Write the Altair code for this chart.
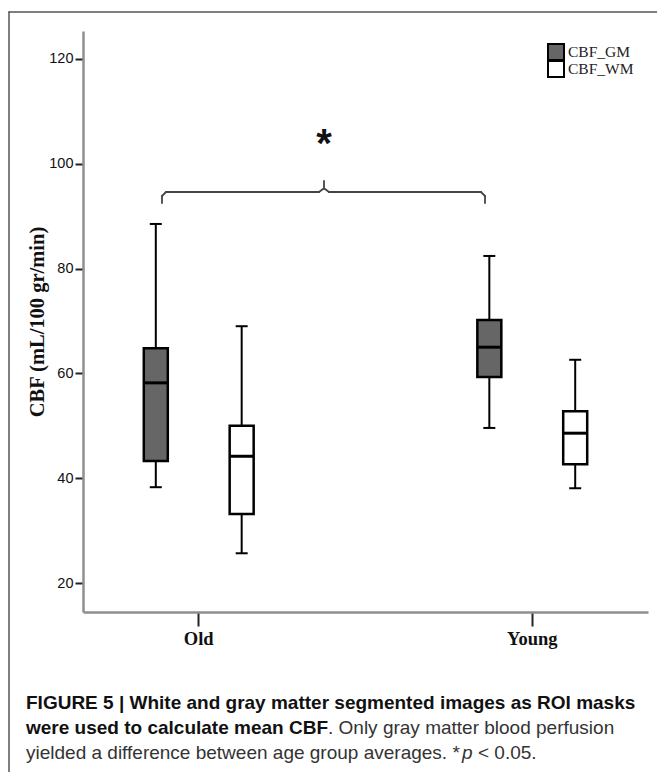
import altair as alt
import pandas as pd

# ---- data ----
groups = ["Old", "Old", "Young", "Young"]
series = ["CBF_GM", "CBF_WM", "CBF_GM", "CBF_WM"]
whisker_low = [38.3, 25.7, 49.6, 38.1]
q1 = [43.3, 33.2, 59.3, 42.7]
median = [58.2, 44.2, 65.0, 48.6]
q3 = [64.8, 50.0, 70.2, 52.8]
whisker_high = [88.5, 69.0, 82.4, 62.6]
y_ticks = [20, 40, 60, 80, 100, 120]
series_order = ["CBF_GM", "CBF_WM"]
series_colors = ["#666666", "#ffffff"]

df = pd.DataFrame({
    "group": groups, "series": series, "low": whisker_low, "q1": q1,
    "median": median, "q3": q3, "high": whisker_high,
})

W, H = 565, 581
yscale = alt.Scale(domain=[14.5, 125.3], nice=False, zero=False)

x_enc = alt.X(
    "group:N",
    scale=alt.Scale(type="band", paddingInner=0.5, paddingOuter=0.097),
    axis=alt.Axis(
        title=None, labelAngle=0, labelFont="Liberation Serif", labelFontWeight="bold",
        labelFontSize=18.5, labelColor="#111111", labelPadding=3,
        domainColor="#8f8f8f", domainWidth=2.5, tickColor="#222222", tickWidth=2,
        tickSize=14, grid=False,
    ),
)
xo_enc = alt.XOffset("series:N", sort=series_order,
                     scale=alt.Scale(paddingInner=0.4, paddingOuter=0.171))

y_axis = alt.Axis(
    values=y_ticks, title="CBF (mL/100 gr/min)", titleFont="Liberation Serif",
    titleFontWeight="bold", titleFontSize=20.5, titleColor="#111111",
    titleAngle=270, titleX=-46, titleY=H / 2, titleAlign="center", titleBaseline="middle",
    labelFont="Liberation Sans", labelFontSize=14.5, labelColor="#111111", labelPadding=2,
    domainColor="#8f8f8f", domainWidth=2.5, tickColor="#222222", tickWidth=2,
    tickSize=8, grid=False,
)

base = alt.Chart(df).encode(x=x_enc, xOffset=xo_enc)

whisk = base.mark_rule(color="black", strokeWidth=2).encode(
    y=alt.Y("low:Q", scale=yscale, axis=y_axis), y2="high:Q")
box = base.mark_bar(size=24, stroke="black", strokeWidth=2.5).encode(
    y=alt.Y("q1:Q", scale=yscale), y2="q3:Q",
    fill=alt.Fill("series:N", scale=alt.Scale(domain=series_order, range=series_colors),
                  legend=None))
med = base.mark_tick(size=24, thickness=3, color="black", opacity=1).encode(
    y=alt.Y("median:Q", scale=yscale))
cap_lo = base.mark_tick(size=12, thickness=2, color="black", opacity=1).encode(
    y=alt.Y("low:Q", scale=yscale))
cap_hi = base.mark_tick(size=12, thickness=2, color="black", opacity=1).encode(
    y=alt.Y("high:Q", scale=yscale))

one = pd.DataFrame({"a": [0]})
CAP_FONT = "Liberation Sans"


def seg(x1, y1, x2, y2, color="#444444", w=1.8):
    return alt.Chart(one).mark_rule(color=color, strokeWidth=w, strokeCap="round").encode(
        x=alt.value(x1), x2=alt.value(x2), y=alt.value(y1), y2=alt.value(y2))


def txt(s, x, y, size, weight="normal", style="normal", font=CAP_FONT,
        color="#111111", align="left", baseline="middle"):
    return alt.Chart(one).mark_text(
        text=s, font=font, fontSize=size, fontWeight=weight, fontStyle=style,
        color=color, align=align, baseline=baseline).encode(x=alt.value(x), y=alt.value(y))


# legend drawn by hand (tight rows as in the reference)
legend = []
for i, (name, col) in enumerate(zip(series_order, series_colors)):
    top = 13 + i * 17
    legend.append(alt.Chart(one).mark_rect(fill=col, stroke="black", strokeWidth=2).encode(
        x=alt.value(465), x2=alt.value(481), y=alt.value(top), y2=alt.value(top + 16)))
    legend.append(txt(name, 485, top + 8, 15.5, font="Liberation Serif", color="#222222"))

bracket = [
    seg(79, 172, 79, 165), seg(79, 165, 83, 161), seg(83, 161, 236, 161),
    seg(236, 161, 240, 158), seg(246, 161, 242, 158), seg(241, 158, 241, 150),
    seg(246, 161, 398, 161), seg(398, 161, 402, 165), seg(402, 165, 402, 172),
]
star = txt("*", 241, 114, 40, weight="bold", font="Liberation Sans", align="center")

border = [seg(-74, -19, 600, -19, color="#555555", w=1.5),
          seg(-74, -19, -74, 760, color="#555555", w=1.5)]

caption = [
    txt("FIGURE 5 | White and gray matter segmented images as ROI masks", -57, 672, 19, weight="bold"),
    txt("were used to calculate mean CBF", -57, 697, 19, weight="bold"),
    txt(". Only gray matter blood perfusion", 245, 697, 19, color="#333333"),
    txt("yielded a difference between age group averages. *", -57, 722, 19, color="#333333"),
    txt("p", 379, 722, 19, style="italic", color="#333333"),
    txt("< 0.05.", 395, 722, 19, color="#333333"),
]

chart = alt.layer(whisk, box, med, cap_lo, cap_hi, *legend, *bracket, star, *border, *caption).properties(
    width=W, height=H,
    autosize=alt.AutoSizeParams(type="none"),
    padding={"left": 83, "top": 31, "right": 9, "bottom": 160},
    background="white",
).configure_view(stroke=None)

chart.save("out.html", embed_options={"renderer": "svg", "actions": False})
